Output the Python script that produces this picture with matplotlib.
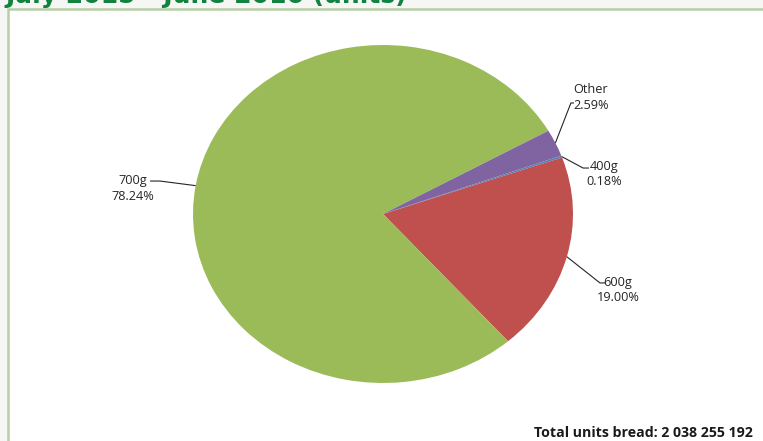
import matplotlib
matplotlib.use("Agg")
import matplotlib.pyplot as plt
from matplotlib.patches import Rectangle
import numpy as np

# Share of bread units sold by loaf size
categories = ["400g", "600g", "700g", "Other"]
shares = [0.18, 19.00, 78.24, 2.59]
colors = ["#4F81BD", "#C0504D", "#9BBB59", "#8064A2"]
title = "July 2015 - June 2016 (units)"
total_label = "Total units bread: 2 038 255 192"

W, H = 763, 441
fig = plt.figure(figsize=(W / 100, H / 100), dpi=100)
fig.patch.set_facecolor("#F6F6F4")

# white chart area with a pale green frame running off the right/bottom edges
fig.patches.append(Rectangle((8 / W, -0.05), 1.1, (H - 9) / H + 0.05,
                             transform=fig.transFigure, facecolor="white",
                             edgecolor="#B7CFA6", linewidth=1.8, zorder=-5))

fig.text(5 / W, 1 - 3 / H, title, ha="left", va="baseline",
         fontsize=18, fontweight="bold", color="#11823F",
         family="DejaVu Sans")

# pie area (slightly wider than tall)
cx, cy, rx, ry = 383, 214, 190, 169
ax = fig.add_axes([(cx - rx) / W, (H - cy - ry) / H, 2 * rx / W, 2 * ry / H])
ax.set_zorder(2)
wedges, _ = ax.pie(shares, colors=colors, startangle=20.2, counterclock=False,
                   radius=1.0, wedgeprops=dict(linewidth=0))
ax.set_aspect("auto")
ax.set_xlim(-1, 1)
ax.set_ylim(-1, 1)
ax.axis("off")

# label placement: (text centre, elbow point, line end) in pie units
label_layout = {
    "Other": ((1.095, 0.689), (0.989, 0.657), (1.005, 0.657)),
    "400g": ((1.163, 0.237), (1.053, 0.272), (1.084, 0.272)),
    "600g": ((1.237, -0.450), (1.142, -0.408), (1.174, -0.408)),
    "700g": ((-1.316, 0.151), (-1.174, 0.195), (-1.226, 0.195)),
}

for w, name, pct in zip(wedges, categories, shares):
    mid = np.deg2rad((w.theta1 + w.theta2) / 2)
    ax0, ay0 = np.cos(mid), np.sin(mid)
    (tx, ty), (ex, ey), (lx, ly) = label_layout[name]
    ax.plot([ax0, ex, lx], [ay0, ey, ly], color="#262626", lw=0.8,
            clip_on=False, solid_capstyle="butt")
    ax.text(tx, ty, f"{name}\n{pct:.2f}%", ha="center", va="center",
            fontsize=9.2, color="#262626", family="Open Sans",
            linespacing=1.25, clip_on=False)

fig.text(753 / W, 1 - 433 / H, total_label, ha="right", va="center",
         fontsize=10.2, fontweight="bold", color="#1A1A1A", family="Open Sans")

fig.savefig("out.png", dpi=100, facecolor=fig.get_facecolor())
